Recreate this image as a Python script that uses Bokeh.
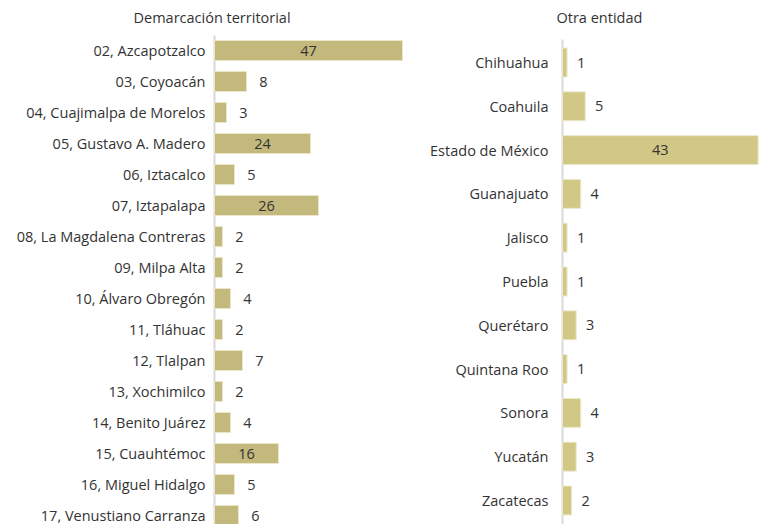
from bokeh.plotting import figure
from bokeh.models import Range1d, ColumnDataSource
from bokeh.layouts import row
from bokeh.core.properties import value
from bokeh.embed import file_html
from bokeh.resources import INLINE

left_title = "Demarcación territorial"
left_labels = ["02, Azcapotzalco", "03, Coyoacán", "04, Cuajimalpa de Morelos",
               "05, Gustavo A. Madero", "06, Iztacalco", "07, Iztapalapa",
               "08, La Magdalena Contreras", "09, Milpa Alta", "10, Álvaro Obregón",
               "11, Tláhuac", "12, Tlalpan", "13, Xochimilco", "14, Benito Juárez",
               "15, Cuauhtémoc", "16, Miguel Hidalgo", "17, Venustiano Carranza"]
left_values = [47, 8, 3, 24, 5, 26, 2, 2, 4, 2, 7, 2, 4, 16, 5, 6]

right_title = "Otra entidad"
right_labels = ["Chihuahua", "Coahuila", "Estado de México", "Guanajuato", "Jalisco",
                "Puebla", "Querétaro", "Quintana Roo", "Sonora", "Yucatán", "Zacatecas"]
right_values = [1, 5, 43, 4, 1, 1, 3, 1, 4, 3, 2]

FONT = "Open Sans"
TXT = "#333333"
FS = "14.5px"
H = 524


def make_panel(title, labels, values, color, width, axis_px, px_per_unit,
               first_px, pitch, line_top_px, title_px, title_dx, bar_h, label_gap, out_off):
    n = len(labels)
    idx = list(range(n))
    # pixel -> data mapping (rows go downward)
    y_top = -first_px / pitch
    y_bot = (H - first_px) / pitch
    x_start = -axis_px / px_per_unit
    x_end = (width - axis_px) / px_per_unit
    p = figure(width=width, height=H, output_backend="svg", toolbar_location=None,
               x_range=Range1d(x_start, x_end), y_range=Range1d(y_bot, y_top),
               x_axis_location=None, y_axis_location=None,
               min_border_left=0, min_border_top=0, min_border_bottom=0, min_border_right=0)
    p.outline_line_color = None
    p.grid.visible = False
    p.background_fill_color = None
    p.border_fill_color = "white"

    # vertical baseline (starts a little above the first bar)
    p.segment(x0=[0], x1=[0], y0=[y_top + line_top_px / pitch], y1=[y_bot],
              line_color="#d9d9d9", line_width=2)

    src = ColumnDataSource(dict(y=idx, v=values, lab=labels, z=[0] * n))
    p.hbar(y="y", right="v", left=0, height=bar_h, source=src, fill_color=color,
           line_color="#ece7cc", line_width=1)

    # category labels
    p.text(x="z", y="y", text="lab", source=src, x_offset=-label_gap, text_align="right",
           text_baseline="middle", text_font=value(FONT), text_font_size=FS,
           text_color=TXT)

    # value labels
    inside = [v > 10 for v in values]
    tx = [v / 2 if ins else v for v, ins in zip(values, inside)]
    toff = [0 if ins else out_off for ins in inside]
    tsrc = ColumnDataSource(dict(x=tx, y=idx, t=[str(v) for v in values], o=toff))
    p.text(x="x", y="y", text="t", x_offset="o", source=tsrc, text_align="center",
           text_baseline="middle", text_font=value(FONT), text_font_size=FS,
           text_color=TXT)

    # panel title
    p.text(x=[0], y=[y_top + title_px / pitch], text=[title], x_offset=title_dx,
           text_align="left", text_baseline="middle", text_font=value(FONT),
           text_font_size=FS, text_color=TXT)
    return p


p1 = make_panel(left_title, left_labels, left_values, "#c4b97c", 420, 214, 4.0,
                50, 31, 35, 17, -81, 0.65, 9, 17)
p2 = make_panel(right_title, right_labels, right_values, "#d2c886", 340, 142, 4.55,
                62, 43.8, 39, 17, -6, 0.66, 14, 14)

layout = row(p1, p2)
open("out.html", "w").write(file_html(layout, INLINE))
